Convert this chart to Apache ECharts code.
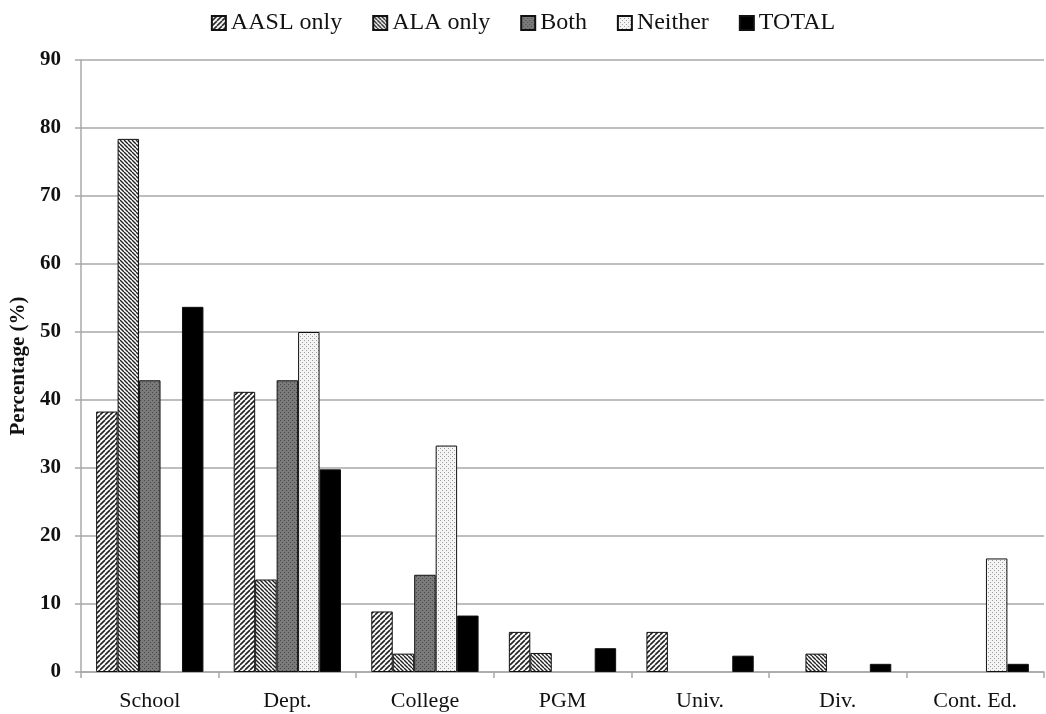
<!DOCTYPE html>
<html>
<head>
<meta charset="utf-8">
<script src="https://cdn.jsdelivr.net/npm/echarts@6/dist/echarts.min.js"></script>
<style>
html,body{margin:0;padding:0;background:#fff;}
#chart{width:1046px;height:714px;}
</style>
</head>
<body>
<div id="chart"></div>
<script>
var categories = ['School', 'Dept.', 'College', 'PGM', 'Univ.', 'Div.', 'Cont. Ed.'];
var seriesNames = ['AASL only', 'ALA only', 'Both', 'Neither', 'TOTAL'];
// null = no bar drawn (0 %)
var aaslOnly = [38.3, 41.2, 8.9, 5.9, 5.9, null, null];
var alaOnly  = [78.4, 13.6, 2.7, 2.8, null, 2.7, null];
var both     = [42.9, 42.9, 14.3, null, null, null, null];
var neither  = [null, 50.0, 33.3, null, null, null, 16.7];
var total    = [53.7, 29.8, 8.3, 3.5, 2.4, 1.2, 1.2];
var yTicks = [0, 10, 20, 30, 40, 50, 60, 70, 80, 90];

function makeTile(size, draw) {
  var c = document.createElement('canvas');
  c.width = size; c.height = size;
  var g = c.getContext('2d');
  draw(g, size);
  return c;
}
function hatch(dir, bg, fg, lw, size) {
  return makeTile(size, function (g, s) {
    g.fillStyle = bg; g.fillRect(0, 0, s, s);
    g.strokeStyle = fg; g.lineWidth = lw;
    for (var k = -1; k <= 1; k++) {
      g.beginPath();
      if (dir > 0) { g.moveTo(k * s, s); g.lineTo(k * s + s, 0); }
      else { g.moveTo(k * s, 0); g.lineTo(k * s + s, s); }
      g.stroke();
    }
  });
}
function dots(bg, fg, size, r) {
  return makeTile(size, function (g, s) {
    g.fillStyle = bg; g.fillRect(0, 0, s, s);
    g.fillStyle = fg;
    g.fillRect(0, 0, r, r);
    g.fillRect(s / 2, s / 2, r, r);
  });
}
var patterns = [
  { image: hatch(1, '#ffffff', '#222222', 1.6, 5), repeat: 'repeat' },
  { image: hatch(-1, '#ffffff', '#222222', 1.4, 4), repeat: 'repeat' },
  { image: dots('#7a7a7a', '#4a4a4a', 4, 1), repeat: 'repeat' },
  { image: dots('#f4f4f4', '#9a9a9a', 4, 1), repeat: 'repeat' },
  '#000000'
];
var dataSets = [aaslOnly, alaOnly, both, neither, total];

var font = '"Liberation Serif", "Times New Roman", serif';
var chart = echarts.init(document.getElementById('chart'), null, { renderer: 'canvas' });
chart.setOption({
  animation: false,
  backgroundColor: '#ffffff',
  legend: {
    top: 6,
    left: 'center',
    itemWidth: 14,
    itemHeight: 14,
    itemGap: 30,
    icon: 'rect',
    data: seriesNames,
    textStyle: { fontFamily: font, fontSize: 24, color: '#111' }
  },
  grid: { left: 78, right: 2, top: 60, bottom: 42, containLabel: false },
  xAxis: {
    type: 'category',
    data: categories,
    axisLine: { lineStyle: { color: '#a8a8a8', width: 1.5 } },
    axisTick: { show: true, length: 6, lineStyle: { color: '#a8a8a8', width: 1.5 } },
    axisLabel: { fontFamily: font, fontSize: 22, color: '#111', margin: 18 }
  },
  yAxis: {
    type: 'value',
    min: 0, max: 90, interval: 10,
    name: 'Percentage (%)',
    nameLocation: 'middle',
    nameRotate: 90,
    nameGap: 52,
    nameTextStyle: { fontFamily: font, fontSize: 21, fontWeight: 'bold', color: '#111' },
    axisLine: { show: true, lineStyle: { color: '#a8a8a8', width: 1.5 } },
    axisTick: { show: true, length: 6, lineStyle: { color: '#a8a8a8', width: 1.5 } },
    axisLabel: {
      fontFamily: font, fontSize: 21, fontWeight: 'bold', color: '#111', margin: 20,
      formatter: function (v) { return yTicks.indexOf(v) >= 0 ? String(v) : ''; }
    },
    splitLine: { show: true, lineStyle: { color: '#a8a8a8', width: 1.5 } }
  },
  series: seriesNames.map(function (n, i) {
    return {
      name: n,
      type: 'bar',
      data: dataSets[i],
      barGap: '0%',
      barCategoryGap: '22%',
      itemStyle: { color: patterns[i], borderColor: '#111', borderWidth: 1 }
    };
  })
});
</script>
</body>
</html>
